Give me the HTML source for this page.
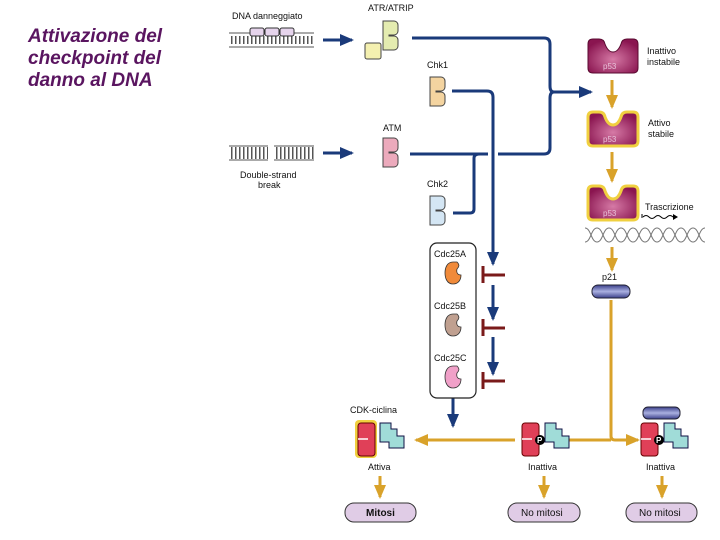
<!DOCTYPE html>
<html><head><style>
body{margin:0;background:#fff;width:720px;height:540px;overflow:hidden;position:relative;font-family:"Liberation Sans",sans-serif}
.t{position:absolute;left:28px;top:26px;color:#5a1560;font-style:italic;font-weight:bold;font-size:19px;line-height:22px}
</style></head><body>
<div class="t">Attivazione del<br>checkpoint del<br>danno al DNA</div>
<svg width="720" height="540" style="position:absolute;left:0;top:0" font-family="Liberation Sans, sans-serif">
<defs>
<marker id="nb" markerUnits="userSpaceOnUse" markerWidth="16" markerHeight="16" refX="12" refY="8" orient="auto"><path d="M0,2L14,8L0,14z" fill="#1a3a7a"/></marker>
<marker id="gd" markerUnits="userSpaceOnUse" markerWidth="16" markerHeight="16" refX="12" refY="8" orient="auto"><path d="M0,2L14,8L0,14z" fill="#d9a22a"/></marker>
<radialGradient id="p53g" cx="0.5" cy="0.6" r="0.6"><stop offset="0" stop-color="#d67aa6"/><stop offset="1" stop-color="#8a1550"/></radialGradient>
<linearGradient id="p21g" x1="0" y1="0" x2="0" y2="1"><stop offset="0" stop-color="#3a3f8a"/><stop offset="0.5" stop-color="#aab0e0"/><stop offset="1" stop-color="#3a3f8a"/></linearGradient>
</defs>
<g font-size="9" fill="#111">
<text x="232" y="19">DNA danneggiato</text>
<text x="368" y="11">ATR/ATRIP</text>
<text x="427" y="68">Chk1</text>
<text x="383" y="131">ATM</text>
<text x="427" y="187">Chk2</text>
<text x="240" y="178">Double-strand</text>
<text x="258" y="188">break</text>
<text x="647" y="54">Inattivo</text><text x="647" y="65">instabile</text>
<text x="648" y="126">Attivo</text><text x="648" y="137">stabile</text>
<text x="645" y="210">Trascrizione</text>
<text x="602" y="280">p21</text>
<text x="434" y="257">Cdc25A</text>
<text x="434" y="309">Cdc25B</text>
<text x="434" y="361">Cdc25C</text>
<text x="350" y="413">CDK-ciclina</text>
<text x="368" y="470">Attiva</text>
<text x="528" y="470">Inattiva</text>
<text x="646" y="470">Inattiva</text>
</g>
<g stroke="#555" stroke-width="1">
<line x1="229" y1="33" x2="314" y2="33"/><line x1="229" y1="47" x2="314" y2="47"/>
<line x1="229" y1="146" x2="268" y2="146"/><line x1="229" y1="160" x2="268" y2="160"/>
<line x1="274" y1="146" x2="314" y2="146"/><line x1="274" y1="160" x2="314" y2="160"/>
</g>
<g>
<line x1="231" y1="40" x2="314" y2="40" stroke-dasharray="1.5 2.5" stroke-width="8" stroke="#555"/>
<line x1="231" y1="153" x2="268" y2="153" stroke-dasharray="1.5 2.5" stroke-width="12" stroke="#555"/>
<line x1="276" y1="153" x2="314" y2="153" stroke-dasharray="1.5 2.5" stroke-width="12" stroke="#555"/>
</g>
<g fill="#e6d4ec" stroke="#333" stroke-width="1">
<rect x="250" y="28" width="14" height="8" rx="2"/><rect x="265" y="28" width="14" height="8" rx="2"/><rect x="280" y="28" width="14" height="8" rx="2"/>
</g>
<rect x="365" y="43" width="16" height="16" rx="2" fill="#f4f0b0" stroke="#444"/>
<path d="M383,21h11a4,4 0 0 1 4,4v6a4,4 0 0 1-4,4h-5v1h5a4,4 0 0 1 4,4v6a4,4 0 0 1-4,4h-11z" fill="#e4ecb0" stroke="#444"/>
<path d="M430,77h11a4,4 0 0 1 4,4v6a4,4 0 0 1-4,4h-5v1h5a4,4 0 0 1 4,4v6a4,4 0 0 1-4,4h-11z" fill="#f4d4a0" stroke="#444"/>
<path d="M383,138h11a4,4 0 0 1 4,4v6a4,4 0 0 1-4,4h-5v1h5a4,4 0 0 1 4,4v6a4,4 0 0 1-4,4h-11z" fill="#ecaabc" stroke="#444"/>
<path d="M430,196h11a4,4 0 0 1 4,4v6a4,4 0 0 1-4,4h-5v1h5a4,4 0 0 1 4,4v6a4,4 0 0 1-4,4h-11z" fill="#d4e6f4" stroke="#444"/>
<g stroke="#1a3a7a" stroke-width="3" fill="none">
<line x1="323" y1="40" x2="352" y2="40" marker-end="url(#nb)"/>
<line x1="323" y1="153" x2="352" y2="153" marker-end="url(#nb)"/>
<path d="M412,38H544q6,0 6,6V86q0,6 4,6"/>
<path d="M410,154H544q6,0 6,-6V98q0,-6 4,-6"/>
<line x1="552" y1="92" x2="591" y2="92" marker-end="url(#nb)"/>
<path d="M452,91H487q6,0 6,6V264" marker-end="url(#nb)"/>
<path d="M453,213H470q4,0 4,-4V158q0,-4 6,-4"/>
<line x1="493" y1="285" x2="493" y2="319" marker-end="url(#nb)"/>
<line x1="493" y1="337" x2="493" y2="374" marker-end="url(#nb)"/>
<line x1="453" y1="398" x2="453" y2="426" marker-end="url(#nb)"/>
</g>
<line x1="488" y1="154" x2="498" y2="154" stroke="#fff" stroke-width="3"/>
<line x1="493" y1="148" x2="493" y2="160" stroke="#1a3a7a" stroke-width="3"/>
<g stroke="#7a1a1a" stroke-width="3" fill="none">
<path d="M483,266v17M483,275h22"/><path d="M483,319v17M483,328h22"/><path d="M483,372v17M483,381h22"/>
</g>
<rect x="430" y="243" width="46" height="155" rx="7" fill="none" stroke="#222" stroke-width="1.2"/>
<g stroke="#333" stroke-width="0.8">
<path d="M453,262c-6,0-8,6-8,11s2,11,8,11s8-5,8-9c-3,0-5-2-4-6c2,-2,3,-4,0,-7z" fill="#f08a3a"/>
<path d="M453,314c-6,0-8,6-8,11s2,11,8,11s8-5,8-9c-3,0-5-2-4-6c2,-2,3,-4,0,-7z" fill="#c0a090"/>
<path d="M453,366c-6,0-8,6-8,11s2,11,8,11s8-5,8-9c-3,0-5-2-4-6c2,-2,3,-4,0,-7z" fill="#f0a0c8"/>
</g>
<g>
<path d="M588,44q0,-5 5,-5h6q5,0 6,5q3,8 8,8t8,-8q1,-5 6,-5h6q5,0 5,5v24q0,5-5,5h-40q-5,0-5-5z" fill="url(#p53g)" stroke="#5a0a30"/>
<path d="M588,117q0,-5 5,-5h6q5,0 6,5q3,8 8,8t8,-8q1,-5 6,-5h6q5,0 5,5v24q0,5-5,5h-40q-5,0-5-5z" fill="url(#p53g)" stroke="#f0d040" stroke-width="3"/>
<path d="M588,191q0,-5 5,-5h6q5,0 6,5q3,8 8,8t8,-8q1,-5 6,-5h6q5,0 5,5v24q0,5-5,5h-40q-5,0-5-5z" fill="url(#p53g)" stroke="#f0d040" stroke-width="3"/>
<g font-size="8" fill="#e8c0d8"><text x="603" y="69">p53</text><text x="603" y="142">p53</text><text x="603" y="216">p53</text></g>
</g>
<g stroke="#d9a22a" stroke-width="3" fill="none">
<line x1="612" y1="80" x2="612" y2="107" marker-end="url(#gd)"/>
<line x1="612" y1="152" x2="612" y2="181" marker-end="url(#gd)"/>
<line x1="612" y1="247" x2="612" y2="270" marker-end="url(#gd)"/>
<path d="M611,300V436q0,4 4,4H638" marker-end="url(#gd)"/>
<line x1="568" y1="440" x2="611" y2="440"/>
<line x1="515" y1="440" x2="416" y2="440" marker-end="url(#gd)"/>
<line x1="380" y1="476" x2="380" y2="497" marker-end="url(#gd)"/>
<line x1="544" y1="476" x2="544" y2="497" marker-end="url(#gd)"/>
<line x1="662" y1="476" x2="662" y2="497" marker-end="url(#gd)"/>
</g>
<path d="M642,218v-4" stroke="#000"/>
<path d="M643,217q3,-3 6,0t6,0t6,0t6,0t6,0" stroke="#000" fill="none"/><path d="M673,214l5,3l-5,3z"/>
<g stroke="#777" stroke-width="1" fill="none">
<path d="M585,228C591,228 591,242 597,242S603,228 609,228S615,242 621,242S627,228 633,228S639,242 645,242S651,228 657,228S663,242 669,242S675,228 681,228S687,242 693,242S699,228 705,228"/>
<path d="M585,242C591,242 591,228 597,228S603,242 609,242S615,228 621,228S627,242 633,242S639,228 645,228S651,242 657,242S663,228 669,228S675,242 681,242S687,228 693,228S699,242 705,242"/>
</g>
<rect x="592" y="285" width="38" height="13" rx="6" fill="url(#p21g)" stroke="#223"/>
<rect x="643" y="407" width="37" height="12" rx="5" fill="url(#p21g)" stroke="#223"/>
<g>
<rect x="355" y="420" width="22" height="38" rx="4" fill="#f0d040"/>
<rect x="358" y="423" width="17" height="33" rx="3" fill="#e04058" stroke="#600"/>
<line x1="358" y1="439" x2="368" y2="439" stroke="#fff" stroke-width="1.5"/>
<path d="M380,423h11v6h6v7h7v12h-15v-6h-9z" fill="#a0dcd8" stroke="#114"/>
<rect x="522" y="423" width="17" height="33" rx="3" fill="#e04058" stroke="#600"/>
<line x1="522" y1="439" x2="532" y2="439" stroke="#fff" stroke-width="1.5"/>
<circle cx="540" cy="440" r="5" fill="#000"/><text x="537" y="443" font-size="8" fill="#fff" font-weight="bold">P</text>
<path d="M545,423h11v6h6v7h7v12h-15v-6h-9z" fill="#a0dcd8" stroke="#114"/>
<rect x="641" y="423" width="17" height="33" rx="3" fill="#e04058" stroke="#600"/>
<line x1="641" y1="439" x2="651" y2="439" stroke="#fff" stroke-width="1.5"/>
<circle cx="659" cy="440" r="5" fill="#000"/><text x="656" y="443" font-size="8" fill="#fff" font-weight="bold">P</text>
<path d="M664,423h11v6h6v7h7v12h-15v-6h-9z" fill="#a0dcd8" stroke="#114"/>
</g>
<g fill="#e0cce6" stroke="#333">
<rect x="345" y="503" width="71" height="19" rx="9"/>
<rect x="508" y="503" width="72" height="19" rx="9"/>
<rect x="626" y="503" width="71" height="19" rx="9"/>
</g>
<g font-size="10" fill="#111"><text x="366" y="516" font-weight="bold">Mitosi</text><text x="521" y="516">No mitosi</text><text x="639" y="516">No mitosi</text></g>
</svg>
</body></html>
